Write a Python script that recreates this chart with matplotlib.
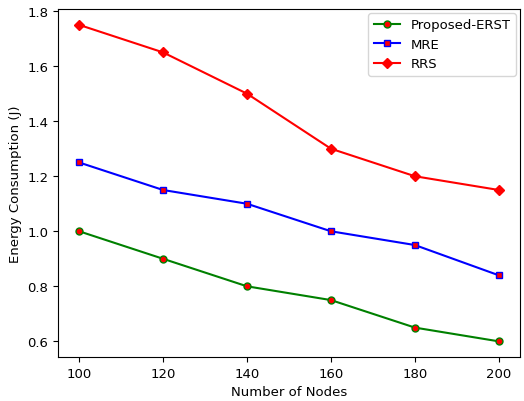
import matplotlib
matplotlib.use("Agg")
import matplotlib.pyplot as plt

nodes = [100, 120, 140, 160, 180, 200]
erst = [1.0, 0.9, 0.8, 0.75, 0.65, 0.6]
mre = [1.25, 1.15, 1.1, 1.0, 0.95, 0.84]
rrs = [1.75, 1.65, 1.5, 1.3, 1.2, 1.15]

fig, ax = plt.subplots(figsize=(5.24, 4.02), dpi=100)
fig.subplots_adjust(left=0.111, right=0.992, top=0.975, bottom=0.109)

ax.plot(nodes, erst, color='green', marker='o', markerfacecolor='red', markersize=5, label='Proposed-ERST')
ax.plot(nodes, mre, color='blue', marker='s', markerfacecolor='red', markersize=5, label='MRE')
ax.plot(nodes, rrs, color='red', marker='D', markerfacecolor='red', markersize=5, label='RRS')

ax.set_xlabel('Number of Nodes', fontsize=9.5)
ax.set_ylabel('Energy Consumption (J)', fontsize=9.5)
ax.tick_params(labelsize=9.5)
ax.legend(loc='upper right', fontsize=9.5, borderaxespad=0.3)

fig.savefig('out.png', dpi=100)
